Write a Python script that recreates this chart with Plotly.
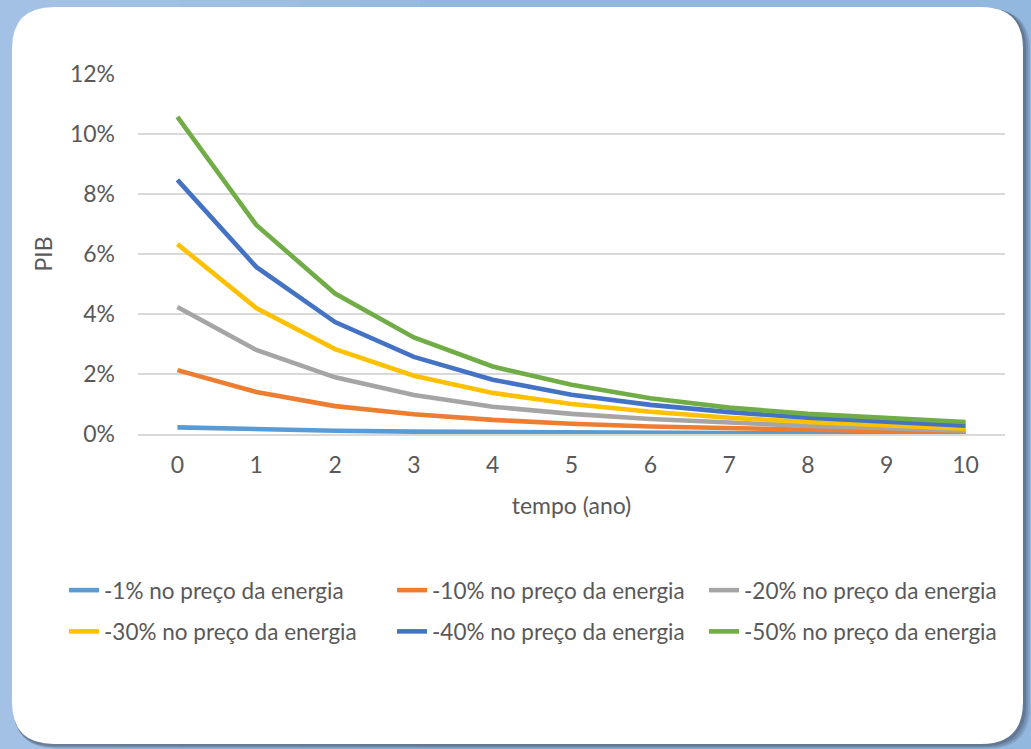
import plotly.graph_objects as go

# Anos após a redução do preço da energia
anos = list(range(11))

# Variação do PIB (fração) para cada cenário de redução do preço da energia
pib_1 = [0.0022, 0.0015, 0.0011, 0.0008, 0.0006, 0.0005, 0.0004, 0.0003, 0.0002, 0.00015, 0.0001]
pib_10 = [0.0213, 0.0140, 0.0093, 0.0066, 0.0047, 0.0034, 0.0025, 0.0019, 0.0013, 0.0009, 0.0005]
pib_20 = [0.0423, 0.0280, 0.0189, 0.0130, 0.0091, 0.0067, 0.0050, 0.0037, 0.0027, 0.0019, 0.0011]
pib_30 = [0.0633, 0.0420, 0.0283, 0.0194, 0.0137, 0.0100, 0.0074, 0.0054, 0.0040, 0.0028, 0.0018]
pib_40 = [0.0847, 0.0557, 0.0373, 0.0257, 0.0181, 0.0131, 0.0097, 0.0073, 0.0054, 0.0040, 0.0028]
pib_50 = [0.1057, 0.0697, 0.0468, 0.0322, 0.0225, 0.0164, 0.0119, 0.0088, 0.0067, 0.0052, 0.0040]

nomes = [
    "-1% no preço da energia",
    "-10% no preço da energia",
    "-20% no preço da energia",
    "-30% no preço da energia",
    "-40% no preço da energia",
    "-50% no preço da energia",
]
series = [pib_1, pib_10, pib_20, pib_30, pib_40, pib_50]
cores = ["#5b9bd5", "#ed7d31", "#a5a5a5", "#ffc000", "#4472c4", "#70ad47"]

FONT = "Lato"
TXT = "#595959"

# Plot area geometry (pixels)
W_FIG, H_FIG = 1031, 749
L, R, T, B = 138, 1005, 74, 434


def xp(px):
    return (px - L) / (R - L)


def yp(py):
    return (B - py) / (B - T)


def rounded_rect(x0, y0, x1, y1, r):
    """Rounded rectangle path in paper coordinates from pixel bounds."""
    pts = [
        ("M", x0 + r, y0), ("L", x1 - r, y0), ("Q", x1, y0, x1, y0 + r),
        ("L", x1, y1 - r), ("Q", x1, y1, x1 - r, y1),
        ("L", x0 + r, y1), ("Q", x0, y1, x0, y1 - r),
        ("L", x0, y0 + r), ("Q", x0, y0, x0 + r, y0),
    ]
    parts = []
    for p in pts:
        coords = p[1:]
        s = [f"{xp(coords[i]):.5f},{yp(coords[i + 1]):.5f}" for i in range(0, len(coords), 2)]
        parts.append(p[0] + " ".join(s))
    return " ".join(parts) + " Z"


# legend columns: three vertical legends, two entries each
colunas = ["legend", "legend2", "legend3"]

fig = go.Figure()
for i, (nome, vals, cor) in enumerate(zip(nomes, series, cores)):
    fig.add_trace(go.Scatter(
        x=anos, y=vals, name=nome, mode="lines",
        line=dict(color=cor, width=4.6),
        legend=colunas[i % 3], legendgroup=f"g{i}",
    ))

shapes = []
# soft lighter tint in the upper-left of the background
for k in range(6):
    shapes.append(dict(type="rect", xref="paper", yref="paper", layer="below",
                       x0=xp(0), x1=xp(120 + k * 60), y0=yp(0), y1=yp(749),
                       fillcolor="rgba(185,214,246,0.09)", line=dict(width=0)))
# card shadow
for off, op in [(6, 0.18), (4, 0.22), (2, 0.3)]:
    shapes.append(dict(type="path", xref="paper", yref="paper", layer="below",
                       path=rounded_rect(12 + off * 0.3, 7 + off * 0.3, 1024 + off, 745 + off * 0.6, 42),
                       fillcolor=f"rgba(60,70,90,{op})", line=dict(width=0)))
# white card
shapes.append(dict(type="path", xref="paper", yref="paper", layer="below",
                   path=rounded_rect(12, 7, 1023, 744, 42),
                   fillcolor="white", line=dict(width=0)))

leg_common = dict(
    orientation="v", xanchor="left", yanchor="top",
    font=dict(family=FONT, size=22.5, color=TXT),
    bgcolor="rgba(0,0,0,0)", itemwidth=30, tracegroupgap=9,
)

fig.update_layout(
    width=W_FIG, height=H_FIG,
    margin=dict(l=L, r=W_FIG - R, t=T, b=H_FIG - B, autoexpand=False),
    paper_bgcolor="#93b8df",
    plot_bgcolor="rgba(0,0,0,0)",
    font=dict(family=FONT, size=22, color=TXT),
    showlegend=True,
    legend=dict(x=xp(64), y=yp(569), **leg_common),
    legend2=dict(x=xp(392), y=yp(569), **leg_common),
    legend3=dict(x=xp(704), y=yp(569), **leg_common),
    shapes=shapes,
    xaxis=dict(
        range=[-0.5, 10.5], tickmode="array", tickvals=anos,
        ticktext=[str(a) for a in anos], showgrid=False,
        showline=True, linecolor="#d9d9d9", linewidth=1.5,
        ticks="", zeroline=False, ticklabelstandoff=10,
        tickfont=dict(family=FONT, size=23, color=TXT),
        title=dict(text="tempo (ano)", font=dict(family=FONT, size=23, color=TXT), standoff=21),
    ),
    yaxis=dict(
        range=[0, 0.12], tickmode="array",
        tickvals=[0, 0.02, 0.04, 0.06, 0.08, 0.10, 0.12],
        ticktext=["0%", "2%", "4%", "6%", "8%", "10%", "12%"],
        showgrid=True, gridcolor="#d9d9d9", gridwidth=1.5,
        zeroline=False, showline=False, ticks="", ticklabelstandoff=22,
        tickfont=dict(family=FONT, size=23, color=TXT),
        title=dict(text="PIB", font=dict(family=FONT, size=23, color=TXT), standoff=10),
    ),
)

fig.write_html("out.html")
